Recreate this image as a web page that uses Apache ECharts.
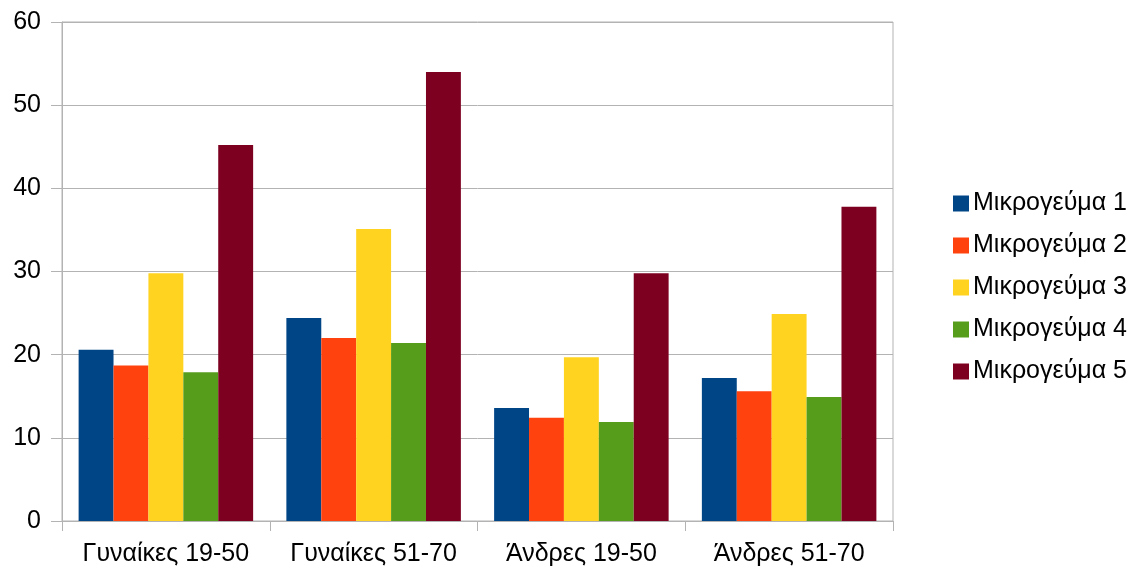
<!DOCTYPE html>
<html>
<head>
<meta charset="utf-8">
<script src="https://cdn.jsdelivr.net/npm/echarts@6/dist/echarts.min.js"></script>
<style>
  html, body { margin: 0; padding: 0; background: #ffffff; }
  #chart { width: 1142px; height: 572px; }
</style>
</head>
<body>
<div id="chart"></div>
<script>
// Groups on the category axis
const categories = ['Γυναίκες 19-50', 'Γυναίκες 51-70', 'Άνδρες 19-50', 'Άνδρες 51-70'];

// One array per series, in category order
const seriesNames = ['Μικρογεύμα 1', 'Μικρογεύμα 2', 'Μικρογεύμα 3', 'Μικρογεύμα 4', 'Μικρογεύμα 5'];
const meal1 = [20.6, 24.4, 13.6, 17.2];
const meal2 = [18.7, 22.0, 12.4, 15.6];
const meal3 = [29.8, 35.1, 19.7, 24.9];
const meal4 = [17.9, 21.4, 11.9, 14.9];
const meal5 = [45.2, 54.0, 29.8, 37.8];
const seriesValues = [meal1, meal2, meal3, meal4, meal5];

// Value axis ticks
const yTicks = [0, 10, 20, 30, 40, 50, 60];

const colors = ['#004586', '#ff420e', '#ffd320', '#579d1c', '#7e0021'];
const lineColor = '#b3b3b3';
const font = 'Liberation Sans, Arial, sans-serif';

const chart = echarts.init(document.getElementById('chart'), null, { renderer: 'canvas' });

chart.setOption({
  animation: false,
  color: colors,
  grid: {
    left: 62, right: 249, top: 22, bottom: 51,
    show: true, borderColor: lineColor, borderWidth: 1
  },
  legend: {
    orient: 'vertical',
    left: 948,
    top: 186,
    itemWidth: 16,
    itemHeight: 16,
    itemGap: 17,
    icon: 'rect',
    data: seriesNames,
    textStyle: { fontFamily: font, fontSize: 25, color: '#000', padding: [0, 0, 0, -1] }
  },
  xAxis: {
    type: 'category',
    data: categories,
    axisLine: { lineStyle: { color: lineColor } },
    axisTick: { show: true, interval: 0, length: 10, lineStyle: { color: lineColor } },
    axisLabel: { interval: 0, hideOverlap: false, fontFamily: font, fontSize: 25, color: '#000', margin: 21 },
    splitLine: { show: false }
  },
  yAxis: {
    type: 'value',
    min: yTicks[0],
    max: yTicks[yTicks.length - 1],
    interval: yTicks[1] - yTicks[0],
    axisLine: { show: true, lineStyle: { color: lineColor } },
    axisTick: { show: true, length: 11, lineStyle: { color: lineColor } },
    axisLabel: { fontFamily: font, fontSize: 25, color: '#000', margin: 21 },
    splitLine: { show: true, lineStyle: { color: lineColor, width: 1 } }
  },
  series: seriesNames.map((name, i) => ({
    name: name,
    type: 'bar',
    data: seriesValues[i],
    barGap: '0%',
    barCategoryGap: '16%'
  }))
});
</script>
</body>
</html>
